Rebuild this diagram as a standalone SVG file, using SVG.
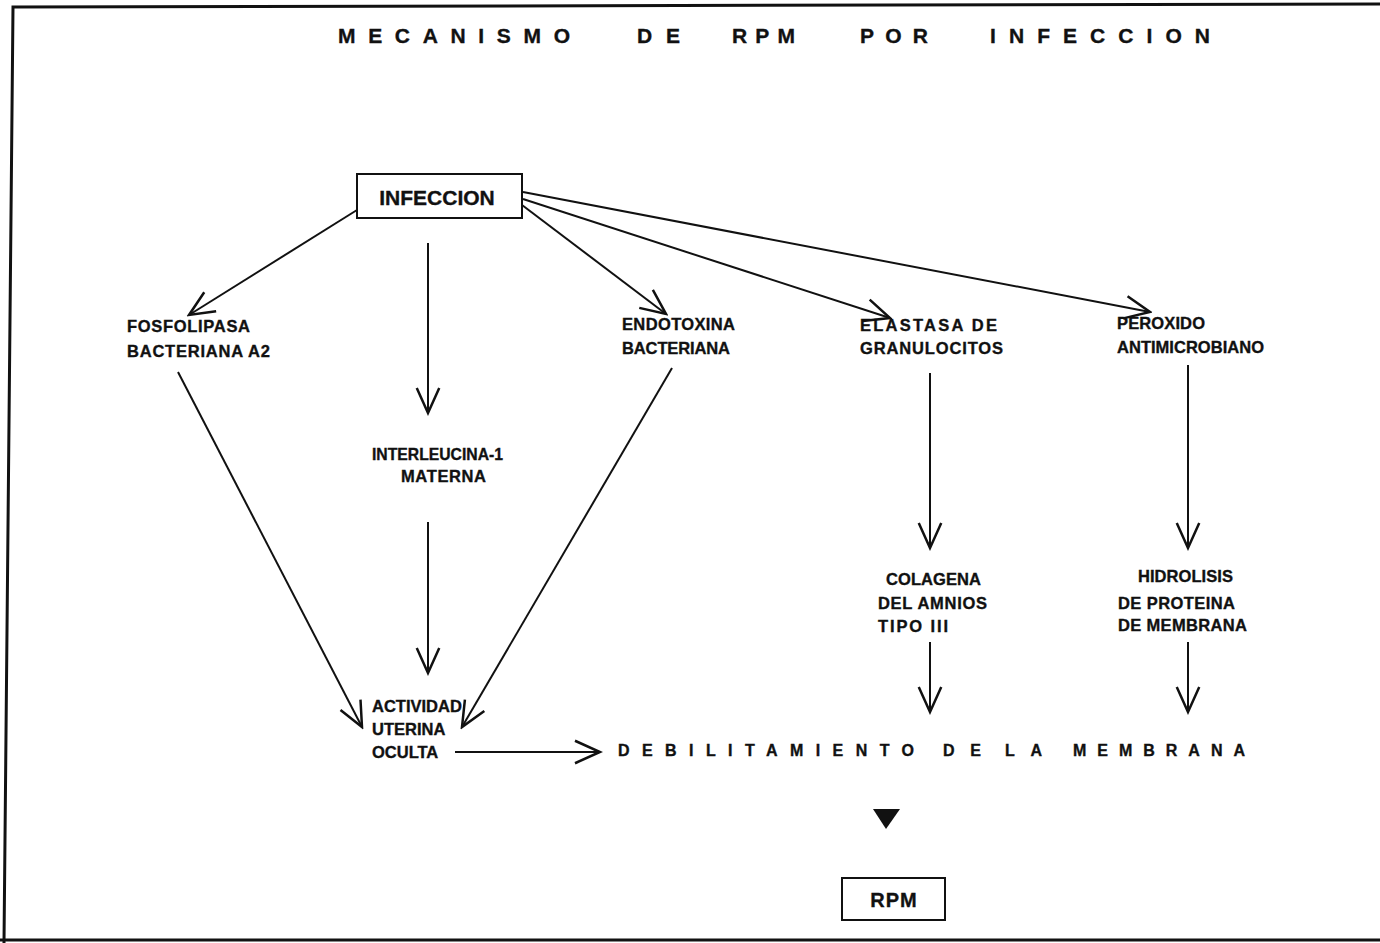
<svg xmlns="http://www.w3.org/2000/svg" width="1380" height="943" viewBox="0 0 1380 943">
<style>
.t{font-family:"Liberation Sans",Arial,sans-serif;font-weight:bold;fill:#111;stroke:#111;stroke-width:0.35;}
.lbl{font-size:16.5px;}
.ttl{font-size:21px;}
.big{font-size:16px;}
.box{fill:#fff;stroke:#111;stroke-width:2;}
.c{stroke:#111;stroke-width:2;fill:none;marker-end:url(#ah);}
.frame{stroke:#111;stroke-width:3;fill:none;}
</style>
<defs>
<marker id="ah" markerUnits="userSpaceOnUse" markerWidth="30" markerHeight="30" viewBox="-22 -11 24 22" refX="0" refY="0" orient="auto">
<path d="M-20,-9 L0,0 L-20,9" fill="none" stroke="#111" stroke-width="2"/>
</marker>
</defs>
<rect width="1380" height="943" fill="#fff"/>
<path class="frame" d="M1380,4 L13,7 L4,943"/>
<path class="frame" d="M0,940 L1380,940"/>

<g id="title">
<text class="t ttl" x="338" y="43" textLength="232" lengthAdjust="spacing">MECANISMO</text>
<text class="t ttl" x="637" y="43" textLength="43" lengthAdjust="spacing">DE</text>
<text class="t ttl" x="732" y="43" textLength="63" lengthAdjust="spacing">RPM</text>
<text class="t ttl" x="860" y="43" textLength="68" lengthAdjust="spacing">POR</text>
<text class="t ttl" x="990" y="43" textLength="220" lengthAdjust="spacing">INFECCION</text>
</g>

<g id="connectors">
<path class="c" d="M357,210 L189,315"/>
<path class="c" d="M428,243 L428,413"/>
<path class="c" d="M522,205 L666,314"/>
<path class="c" d="M523,199 L890,318"/>
<path class="c" d="M523,192 L1150,312"/>
<path class="c" d="M178,372 L362,727"/>
<path class="c" d="M672,368 L462,727"/>
<path class="c" d="M428,522 L428,673"/>
<path class="c" d="M930,373 L930,548"/>
<path class="c" d="M1188,365 L1188,548"/>
<path class="c" d="M930,642 L930,712"/>
<path class="c" d="M1188,642 L1188,712"/>
<path class="c" d="M455,752 L600,752"/>
</g>

<g id="infeccion">
<rect class="box" x="357" y="174" width="165" height="44"/>
<text class="t" x="437" y="205" font-size="21" text-anchor="middle">INFECCION</text>
</g>

<g id="fosfolipasa">
<text class="t lbl" x="127" y="332" textLength="123" lengthAdjust="spacing">FOSFOLIPASA</text>
<text class="t lbl" x="127" y="357" textLength="143" lengthAdjust="spacing">BACTERIANA A2</text>
</g>

<g id="endotoxina">
<text class="t lbl" x="622" y="330" textLength="113" lengthAdjust="spacing">ENDOTOXINA</text>
<text class="t lbl" x="622" y="354" textLength="108" lengthAdjust="spacing">BACTERIANA</text>
</g>

<g id="elastasa">
<text class="t lbl" x="860" y="331" textLength="137" lengthAdjust="spacing">ELASTASA DE</text>
<text class="t lbl" x="860" y="354" textLength="143" lengthAdjust="spacing">GRANULOCITOS</text>
</g>

<g id="peroxido">
<text class="t lbl" x="1117" y="329" textLength="88" lengthAdjust="spacing">PEROXIDO</text>
<text class="t lbl" x="1117" y="353" textLength="147" lengthAdjust="spacing">ANTIMICROBIANO</text>
</g>

<g id="interleucina">
<text class="t lbl" x="372" y="460" textLength="131" lengthAdjust="spacingAndGlyphs">INTERLEUCINA-1</text>
<text class="t lbl" x="401" y="482" textLength="85" lengthAdjust="spacing">MATERNA</text>
</g>

<g id="colagena">
<text class="t lbl" x="886" y="585" textLength="95" lengthAdjust="spacing">COLAGENA</text>
<text class="t lbl" x="878" y="609" textLength="109" lengthAdjust="spacing">DEL AMNIOS</text>
<text class="t lbl" x="878" y="632" textLength="70" lengthAdjust="spacing">TIPO III</text>
</g>

<g id="hidrolisis">
<text class="t lbl" x="1138" y="582" textLength="95" lengthAdjust="spacing">HIDROLISIS</text>
<text class="t lbl" x="1118" y="609" textLength="117" lengthAdjust="spacing">DE PROTEINA</text>
<text class="t lbl" x="1118" y="631" textLength="129" lengthAdjust="spacing">DE MEMBRANA</text>
</g>

<g id="actividad">
<text class="t lbl" x="372" y="712">ACTIVIDAD</text>
<text class="t lbl" x="372" y="735">UTERINA</text>
<text class="t lbl" x="372" y="758">OCULTA</text>
</g>

<g id="debilitamiento">
<text class="t big" x="618" y="756" textLength="296" lengthAdjust="spacing">DEBILITAMIENTO</text>
<text class="t big" x="943" y="756" textLength="38" lengthAdjust="spacing">DE</text>
<text class="t big" x="1005" y="756" textLength="37" lengthAdjust="spacing">LA</text>
<text class="t big" x="1073" y="756" textLength="172" lengthAdjust="spacing">MEMBRANA</text>
</g>

<g id="triangle">
<polygon points="873,809 900,809 886,829" fill="#111"/>
</g>

<g id="rpm">
<rect class="box" x="842" y="878" width="103" height="42"/>
<text class="t" x="894" y="907" font-size="20" text-anchor="middle" letter-spacing="1">RPM</text>
</g>
</svg>
